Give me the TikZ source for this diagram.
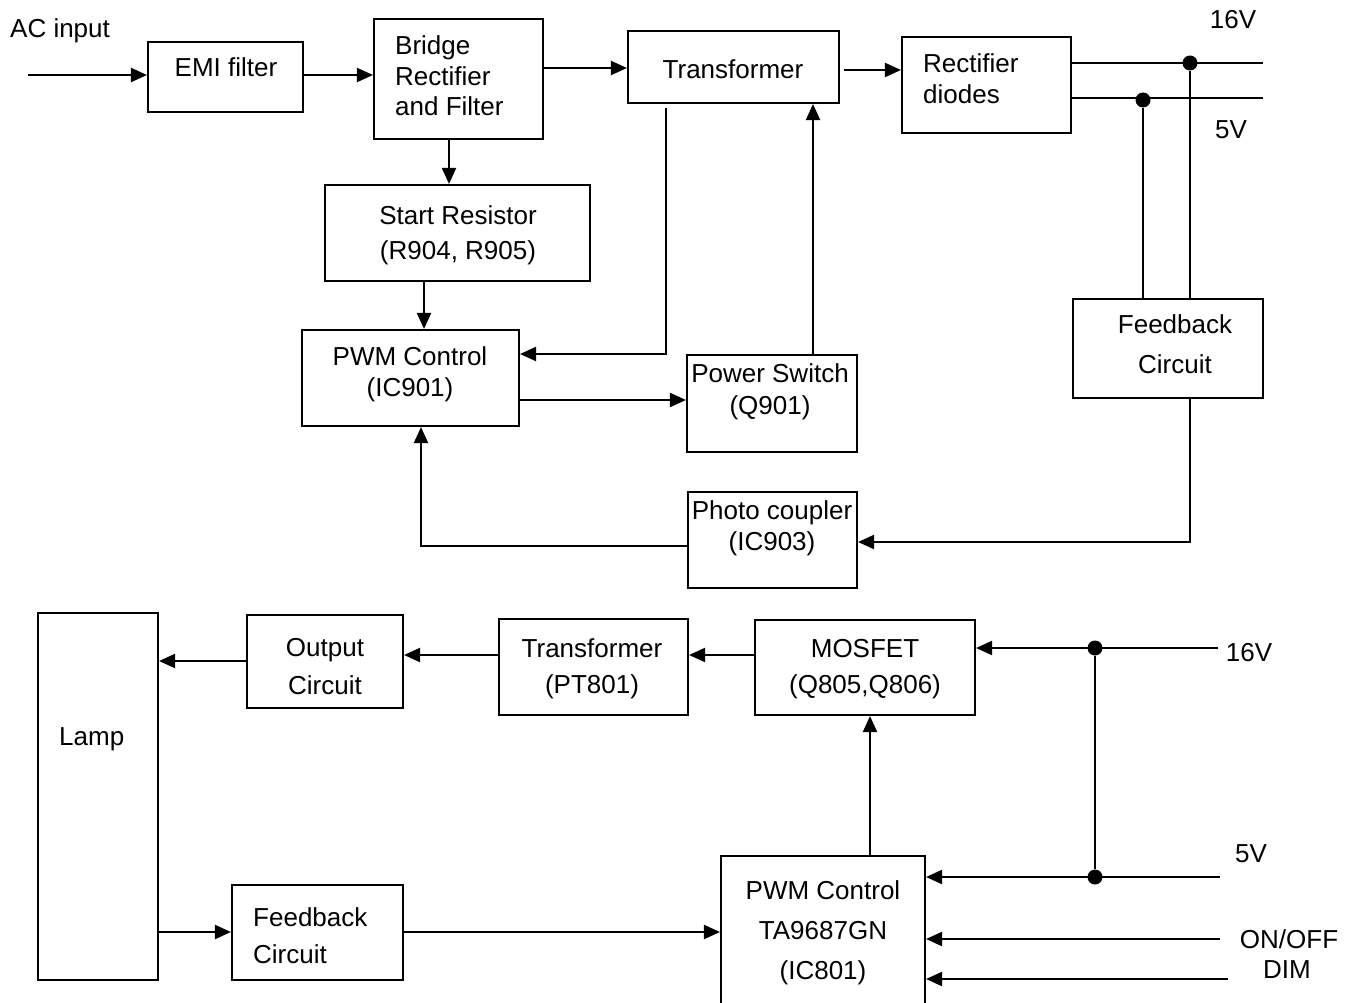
\documentclass[tikz,border=0pt]{standalone}
\usepackage{fontspec}
\setmainfont{Liberation Sans}
\usetikzlibrary{arrows.meta}
\begin{document}
\begin{tikzpicture}[x=1pt,y=-1pt,
  box/.style={draw,line width=2.1pt,inner sep=0pt},
  txt/.style={inner sep=0pt,font=\fontsize{26}{31}\selectfont,anchor=base},
  ltxt/.style={txt,anchor=base west},
  wire/.style={line width=2.1pt},
  arr/.style={line width=2.1pt,-{Triangle[length=16pt,width=14pt]}},
  dot/.style={circle,fill=black,inner sep=0pt,minimum size=15pt}]
\useasboundingbox (0,0) rectangle (1354,1003);
% ---------- boxes (top) ----------
\node[box,minimum width=155pt,minimum height=70pt] (emi) at (225.5,77) {};
\node[box,minimum width=169pt,minimum height=120pt] (bridge) at (458.5,79) {};
\node[box,minimum width=211pt,minimum height=72pt] (trtop) at (733.5,67) {};
\node[box,minimum width=169pt,minimum height=96pt] (rect) at (986.5,85) {};
\node[box,minimum width=265pt,minimum height=96pt] (start) at (457.5,233) {};
\node[box,minimum width=217pt,minimum height=96pt] (pwma) at (410.5,378) {};
\node[box,minimum width=170pt,minimum height=97pt] (psw) at (772,403.5) {};
\node[box,minimum width=190pt,minimum height=99pt] (fba) at (1168,348.5) {};
\node[box,minimum width=169pt,minimum height=96pt] (pc) at (772.5,540) {};
% ---------- boxes (bottom) ----------
\node[box,minimum width=120pt,minimum height=367pt] (lamp) at (98,796.5) {};
\node[box,minimum width=156pt,minimum height=93pt] (out) at (325,661.5) {};
\node[box,minimum width=189pt,minimum height=96pt] (pt) at (593.5,667) {};
\node[box,minimum width=220pt,minimum height=95pt] (mos) at (865,667.5) {};
\node[box,minimum width=171pt,minimum height=95pt] (fbb) at (317.5,932.5) {};
\node[box,minimum width=204pt,minimum height=160pt] (pwmb) at (823,936) {};
% ---------- texts ----------
\node[ltxt] (tac) at (10,38) {AC input};
\node[txt] (temi) at (226,77) {EMI filter};
\node[ltxt] (tbr1) at (395,55) {Bridge};
\node[ltxt] (tbr2) at (395,86) {Rectifier};
\node[ltxt] (tbr3) at (395,116) {and Filter};
\node[txt] (ttr) at (733,79) {Transformer};
\node[ltxt] (trd1) at (923,73) {Rectifier};
\node[ltxt] (trd2) at (923,104) {diodes};
\node[txt] (t16a) at (1233,29) {16V};
\node[txt] (t5a) at (1231,139) {5V};
\node[txt] (tst1) at (458,224) {Start Resistor};
\node[txt] (tst2) at (458,259) {(R904, R905)};
\node[txt] (tpa1) at (410,365) {PWM Control};
\node[txt] (tpa2) at (410,396) {(IC901)};
\node[txt] (tps1) at (770,382) {Power Switch};
\node[txt] (tps2) at (770,414) {(Q901)};
\node[txt] (tfa1) at (1175,333) {Feedback};
\node[txt] (tfa2) at (1175,373) {Circuit};
\node[txt] (tpc1) at (772,519) {Photo coupler};
\node[txt] (tpc2) at (772,550) {(IC903)};
\node[ltxt] (tlamp) at (59,745) {Lamp};
\node[txt] (tout1) at (325,656) {Output};
\node[txt] (tout2) at (325,694) {Circuit};
\node[txt] (tpt1) at (592,657) {Transformer};
\node[txt] (tpt2) at (592,693) {(PT801)};
\node[txt] (tmos1) at (865,657) {MOSFET};
\node[txt] (tmos2) at (865,693) {(Q805,Q806)};
\node[ltxt] (tfb1) at (253,926) {Feedback};
\node[ltxt] (tfb2) at (253,963) {Circuit};
\node[txt] (tpb1) at (823,899) {PWM Control};
\node[txt] (tpb2) at (823,939) {TA9687GN};
\node[txt] (tpb3) at (823,979) {(IC801)};
\node[txt] (t16b) at (1249,661) {16V};
\node[txt] (t5b) at (1251,862) {5V};
\node[txt] (ton) at (1289,948) {ON/OFF};
\node[txt] (tdim) at (1287,978) {DIM};
% ---------- helper coordinates ----------
\coordinate (acin) at (28,75);
\coordinate (x449) at (449,0);
\coordinate (x424) at (424,0);
\coordinate (x666) at (666,0);
\coordinate (x813) at (813,0);
\coordinate (x421) at (421,0);
\coordinate (x870) at (870,0);
\coordinate (y68) at (0,68);
\coordinate (y70) at (0,70);
\coordinate (y354) at (0,354);
\coordinate (y400) at (0,400);
\coordinate (y63) at (0,63);
\coordinate (y98) at (0,98);
\coordinate (y542) at (0,542);
\coordinate (y546) at (0,546);
\coordinate (y661) at (0,661);
\coordinate (y655) at (0,655);
\coordinate (y932) at (0,932);
\coordinate (r16) at (1263,63);
\coordinate (r5) at (1263,98);
\coordinate (in16) at (1218,648);
\coordinate (in5) at (1220,877);
\coordinate (inon) at (1220,939);
\coordinate (indim) at (1228,979);
% ---------- dots ----------
\node[dot] (d16) at (1190,63) {};
\node[dot] (d5) at (1143,100) {};
\node[dot] (d16b) at (1095,648) {};
\node[dot] (d5b) at (1095,877) {};
% ---------- connectors (top) ----------
\draw[arr] (acin) -- (emi.west |- acin);
\draw[arr] (emi.east |- acin) -- (bridge.west |- acin);
\draw[arr] (bridge.east |- y68) -- (trtop.west |- y68);
\draw[arr,shorten <=4pt] (trtop.east |- y70) -- (rect.west |- y70);
\draw[arr] (bridge.south -| x449) -- (start.north -| x449);
\draw[arr] (start.south -| x424) -- (pwma.north -| x424);
\draw[arr,shorten <=4pt] (trtop.south -| x666) |- (pwma.east |- y354);
\draw[arr] (psw.north -| x813) -- (trtop.south -| x813);
\draw[arr] (pwma.east |- y400) -- (psw.west |- y400);
\draw[wire] (rect.east |- y63) -- (r16);
\draw[wire] (rect.east |- y98) -- (r5);
\draw[wire] (fba.north -| d5) -- (d5);
\draw[wire] (fba.north -| d16) -- (d16);
\draw[arr] (fba.south -| d16) |- (pc.east |- y542);
\draw[arr] (pc.west |- y546) -| (pwma.south -| x421);
% ---------- connectors (bottom) ----------
\draw[arr] (out.west |- y661) -- (lamp.east |- y661);
\draw[arr] (pt.west |- y655) -- (out.east |- y655);
\draw[arr] (mos.west |- y655) -- (pt.east |- y655);
\draw[arr] (in16) -- (mos.east |- in16);
\draw[wire] (d16b) -- (d5b);
\draw[arr] (in5) -- (pwmb.east |- in5);
\draw[arr] (inon) -- (pwmb.east |- inon);
\draw[arr] (indim) -- (pwmb.east |- indim);
\draw[arr] (pwmb.north -| x870) -- (mos.south -| x870);
\draw[arr] (lamp.east |- y932) -- (fbb.west |- y932);
\draw[arr] (fbb.east |- y932) -- (pwmb.west |- y932);
\end{tikzpicture}
\end{document}
